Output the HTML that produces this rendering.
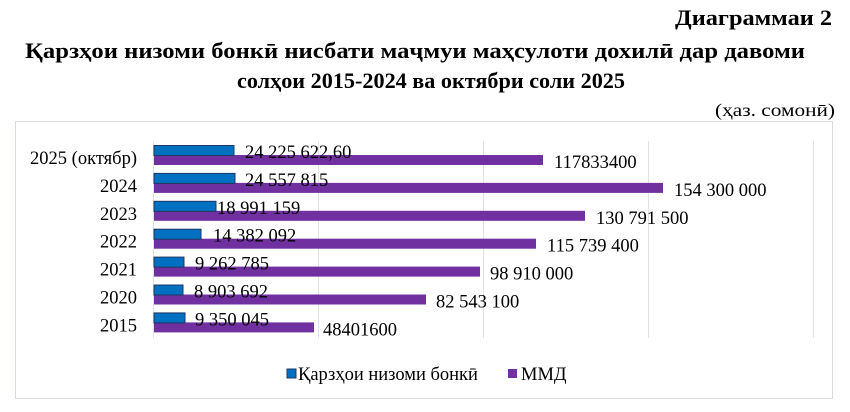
<!DOCTYPE html>
<html><head><meta charset="utf-8"><style>
body{margin:0;background:#fff;}
svg{display:block;font-family:"Liberation Serif",serif;}
</style></head><body>
<svg width="850" height="412" xmlns="http://www.w3.org/2000/svg">
<text x="675" y="25" font-size="22" font-weight="bold" textLength="157" lengthAdjust="spacingAndGlyphs">Диаграммаи 2</text>
<text x="25" y="58" font-size="22" font-weight="bold" textLength="780" lengthAdjust="spacingAndGlyphs">Қарзҳои низоми бонкӣ нисбати маҷмуи маҳсулоти дохилӣ дар давоми</text>
<text x="237" y="88" font-size="22" font-weight="bold" textLength="388" lengthAdjust="spacingAndGlyphs">солҳои 2015-2024 ва октябри соли 2025</text>
<text x="715" y="116" font-size="18" textLength="120" lengthAdjust="spacingAndGlyphs">(ҳаз. сомонӣ)</text>
<rect x="15.5" y="121.5" width="817" height="277" fill="#fff" stroke="#d9dde3"/>
<g stroke="#dfe2e6" stroke-width="1">
<line x1="153.5" y1="141" x2="153.5" y2="338"/>
<line x1="318.5" y1="141" x2="318.5" y2="338"/>
<line x1="483.5" y1="141" x2="483.5" y2="338"/>
<line x1="648.5" y1="141" x2="648.5" y2="338"/>
<line x1="813.5" y1="141" x2="813.5" y2="338"/>
</g>
<g font-size="18.5" fill="#000">
<g>
<rect x="154" y="155" width="389" height="10" fill="#7030a0"/>
<rect x="154" y="145.5" width="80" height="10" fill="#0070c0" stroke="#1f3864"/>
<text x="245" y="158">24 225 622,60</text>
<text x="554" y="168">117833400</text>
<text x="137" y="164" text-anchor="end">2025 (октябр)</text>
</g>
<g transform="translate(0,27.9)">
<rect x="154" y="155" width="509" height="10" fill="#7030a0"/>
<rect x="154" y="145.5" width="81" height="10" fill="#0070c0" stroke="#1f3864"/>
<text x="245" y="158">24 557 815</text>
<text x="674" y="168">154 300 000</text>
<text x="137" y="164" text-anchor="end">2024</text>
</g>
<g transform="translate(0,55.8)">
<rect x="154" y="155" width="431" height="10" fill="#7030a0"/>
<rect x="154" y="145.5" width="62" height="10" fill="#0070c0" stroke="#1f3864"/>
<text x="217" y="158">18 991 159</text>
<text x="596" y="168">130 791 500</text>
<text x="137" y="164" text-anchor="end">2023</text>
</g>
<g transform="translate(0,83.7)">
<rect x="154" y="155" width="382" height="10" fill="#7030a0"/>
<rect x="154" y="145.5" width="47" height="10" fill="#0070c0" stroke="#1f3864"/>
<text x="213" y="158">14 382 092</text>
<text x="547" y="168">115 739 400</text>
<text x="137" y="164" text-anchor="end">2022</text>
</g>
<g transform="translate(0,111.6)">
<rect x="154" y="155" width="326" height="10" fill="#7030a0"/>
<rect x="154" y="145.5" width="30" height="10" fill="#0070c0" stroke="#1f3864"/>
<text x="195" y="158">9 262 785</text>
<text x="490" y="168">98 910 000</text>
<text x="137" y="164" text-anchor="end">2021</text>
</g>
<g transform="translate(0,139.5)">
<rect x="154" y="155" width="272" height="10" fill="#7030a0"/>
<rect x="154" y="145.5" width="29" height="10" fill="#0070c0" stroke="#1f3864"/>
<text x="194" y="158">8 903 692</text>
<text x="436" y="168">82 543 100</text>
<text x="137" y="164" text-anchor="end">2020</text>
</g>
<g transform="translate(0,167.4)">
<rect x="154" y="155" width="160" height="10" fill="#7030a0"/>
<rect x="154" y="145.5" width="31" height="10" fill="#0070c0" stroke="#1f3864"/>
<text x="195" y="158">9 350 045</text>
<text x="323" y="168">48401600</text>
<text x="137" y="164" text-anchor="end">2015</text>
</g>
<rect x="287" y="369" width="9" height="9" fill="#0070c0" stroke="#1f3864"/>
<text x="298" y="380">Қарзҳои низоми бонкӣ</text>
<rect x="508" y="369" width="9" height="9" fill="#7030a0"/>
<text x="521" y="380">ММД</text>
</g>
</svg>
</body></html>
